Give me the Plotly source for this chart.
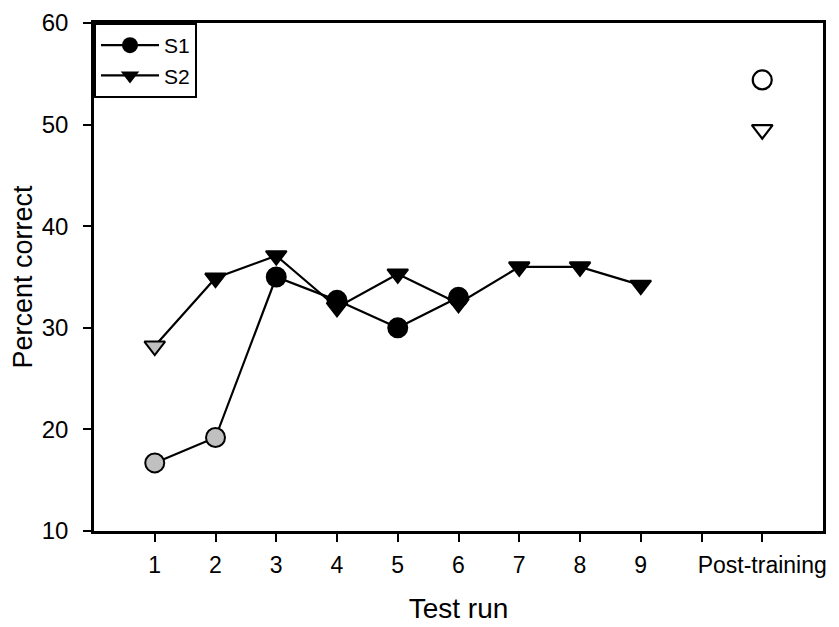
import plotly.graph_objects as go

test_runs = [1, 2, 3, 4, 5, 6, 7, 8, 9]
s1_values = [16.7, 19.2, 35.0, 32.7, 30.0, 33.0]
s2_values = [28.2, 34.9, 37.1, 32.0, 35.3, 32.4, 36.0, 36.0, 34.2]
post_x = 11
s1_post = 54.4
s2_post = 49.5
tick_vals = [1, 2, 3, 4, 5, 6, 7, 8, 9, 10, 11]
tick_text = ["1", "2", "3", "4", "5", "6", "7", "8", "9", "", "Post-training"]
y_ticks = [10, 20, 30, 40, 50, 60]

GRAY = "#c0c0c0"
FONT = "Liberation Sans, Arial, sans-serif"

fig = go.Figure()
# data traces (no legend)
fig.add_trace(go.Scatter(
    x=test_runs[:len(s1_values)], y=s1_values, mode="lines+markers", showlegend=False,
    line=dict(color="black", width=2.2),
    marker=dict(symbol="circle", size=19,
                color=[GRAY] * 2 + ["black"] * (len(s1_values) - 2),
                line=dict(color="black", width=2)),
))
fig.add_trace(go.Scatter(
    x=test_runs, y=s2_values, mode="lines+markers", showlegend=False,
    line=dict(color="black", width=2.2),
    marker=dict(symbol="triangle-down", size=18,
                color=[GRAY] + ["black"] * (len(s2_values) - 1),
                line=dict(color="black", width=2)),
))
fig.add_trace(go.Scatter(
    x=[post_x], y=[s1_post], mode="markers", showlegend=False,
    marker=dict(symbol="circle-open", size=19, color="black", line=dict(width=2.2)),
))
fig.add_trace(go.Scatter(
    x=[post_x], y=[s2_post], mode="markers", showlegend=False,
    marker=dict(symbol="triangle-down-open", size=18, color="black", line=dict(width=2.2)),
))
# legend entries
fig.add_trace(go.Scatter(
    x=[None], y=[None], mode="lines+markers", name="S1",
    line=dict(color="black", width=2.2),
    marker=dict(symbol="circle", size=19, color="black"),
))
fig.add_trace(go.Scatter(
    x=[None], y=[None], mode="lines+markers", name="S2",
    line=dict(color="black", width=2.2),
    marker=dict(symbol="triangle-down", size=18, color="black"),
))

fig.update_layout(
    width=839, height=627,
    margin=dict(l=86, r=24, t=15, b=104),
    paper_bgcolor="white", plot_bgcolor="white",
    font=dict(family=FONT, color="black", size=24),
    legend=dict(x=0, y=1, xanchor="left", yanchor="top",
                bordercolor="black", borderwidth=2, bgcolor="white",
                font=dict(size=21), itemwidth=58, tracegroupgap=0),
    xaxis=dict(range=[0, 12], tickmode="array", tickvals=tick_vals, ticktext=tick_text,
               ticks="outside", ticklen=8, tickwidth=2, tickcolor="black",
               showline=True, linecolor="black", linewidth=2.5, mirror=True,
               showgrid=False, zeroline=False, automargin=False,
               ticklabelstandoff=4,
               title=dict(text="Test run", font=dict(size=28), standoff=22),
               tickfont=dict(size=23)),
    yaxis=dict(range=[10, 60], tickmode="array", tickvals=y_ticks,
               ticks="outside", ticklen=8, tickwidth=2, tickcolor="black",
               showline=True, linecolor="black", linewidth=2.5, mirror=True,
               showgrid=False, zeroline=False, automargin=False,
               ticklabelstandoff=10,
               title=dict(text="Percent correct", font=dict(size=27), standoff=25),
               tickfont=dict(size=24)),
)

fig.write_html("out.html")
